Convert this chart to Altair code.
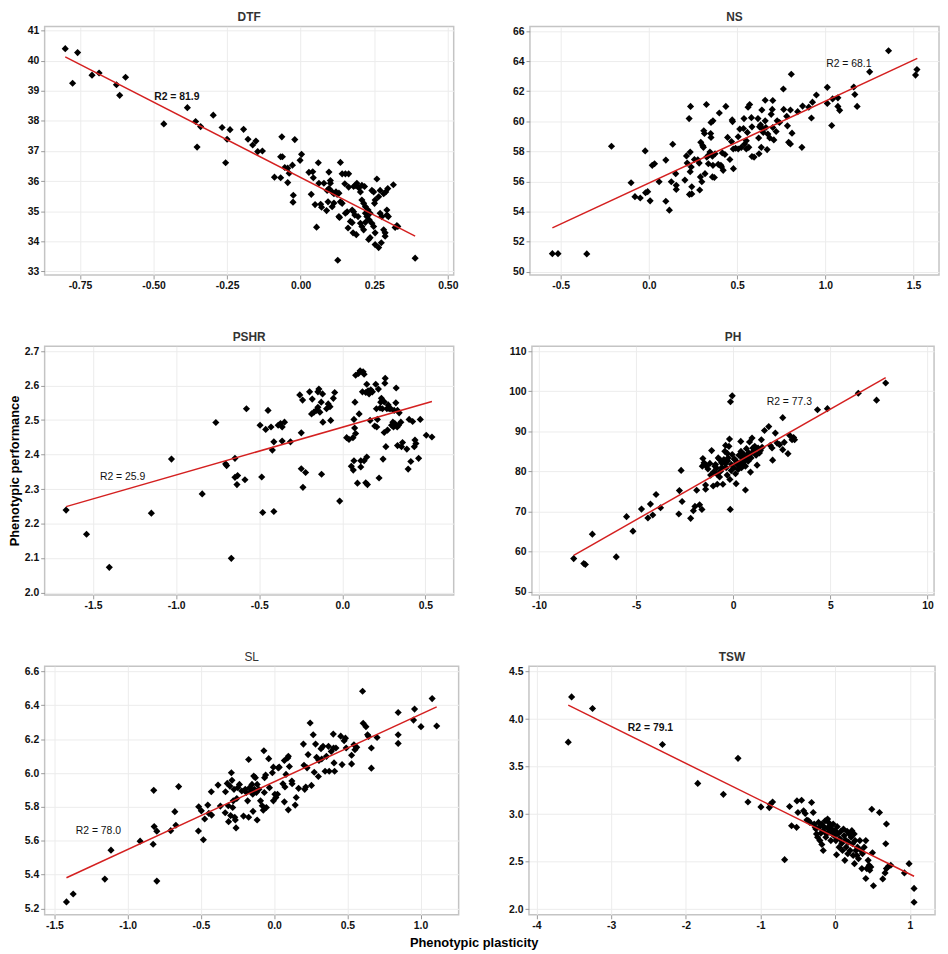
import altair as alt
import pandas as pd

FONT = "Liberation Sans"

DTF = [(-0.800,40.40),(-0.758,40.27),(-0.775,39.25),(-0.709,39.52),(-0.685,39.59),(-0.626,39.20),(-0.615,38.85),(-0.595,39.45),(-0.465,37.90),(-0.385,38.44),(-0.357,37.98),(-0.352,37.13),(-0.340,37.81),(-0.297,38.19),(-0.267,37.78),(-0.240,37.71),(-0.250,37.39),(-0.255,36.61),(-0.194,37.72),(-0.179,37.39),(-0.152,37.33),(-0.163,37.20),(-0.146,36.98),(-0.130,37.00),(-0.064,37.47),(-0.020,37.38),(-0.068,36.81),(-0.062,36.81),(-0.089,36.13),(-0.068,36.11),(-0.054,36.45),(-0.044,36.43),(-0.039,36.26),(-0.044,35.95),(-0.028,36.53),(0.003,36.89),(-0.002,36.69),(-0.025,35.53),(-0.026,35.30),(0.054,34.47),(0.126,33.37),(0.389,33.44),(0.315,35.88),(0.327,34.52),(0.259,36.07),(0.135,36.62),
       (0.028,36.29),(0.041,36.31),(0.036,35.56),(0.043,36.11),(0.060,36.61),(0.062,35.93),(0.049,35.22),(0.068,35.23),(0.071,35.13),(0.079,35.93),(0.093,35.31),(0.088,35.02),(0.096,36.30),(0.101,36.02),(0.101,35.93),(0.096,35.75),(0.090,35.69),(0.107,35.64),(0.113,35.58),(0.107,35.15),(0.120,35.64),(0.124,35.56),(0.130,35.60),(0.113,35.27),(0.135,35.31),(0.130,34.82),(0.132,34.79),(0.141,36.24),(0.152,36.24),(0.150,35.91),(0.141,35.26),(0.152,34.93),(0.158,34.98),(0.163,36.24),(0.163,35.80),(0.169,34.66),(0.161,34.44),(0.175,34.62),(0.180,35.82),(0.186,35.86),(0.191,35.93),(0.180,34.98),(0.184,34.87),(0.178,34.28),(0.189,34.22),(0.197,35.78),(0.203,35.64),(0.208,35.86),(0.208,35.37),(0.208,34.49),(0.214,35.26),(0.217,35.82),(0.220,35.15),(0.220,34.93),(0.225,34.82),(0.229,35.04),(0.233,34.71),(0.236,34.93),(0.231,34.06),(0.236,34.12),(0.242,34.60),(0.242,35.69),(0.248,35.64),(0.251,35.26),(0.253,35.37),(0.248,34.49),(0.253,34.28),(0.253,33.89),(0.265,33.79),(0.265,35.48),(0.270,35.69),(0.270,34.93),(0.276,34.82),(0.274,33.95),(0.282,35.58),(0.282,34.38),(0.287,34.28),(0.287,34.17),(0.289,35.64),(0.293,35.04),(0.293,34.87),(0.296,35.75),(0.298,34.82),(0.195,34.82),(0.203,34.60),(0.214,34.38),(0.175,35.04),(0.220,34.63),(0.321,34.46),(0.330,34.49)]

NS = [(-0.547,51.20),(-0.515,51.20),(-0.352,51.18),(-0.212,58.34),(-0.101,55.91),(-0.079,54.99),(-0.049,54.90),(-0.021,58.03),(-0.019,55.25),(-0.007,55.32),(0.007,54.71),(0.019,57.07),(0.032,57.18),(0.058,55.98),(0.096,57.42),(0.096,54.68),(0.116,54.09),(0.127,55.98),(0.135,58.47),(0.152,56.52),(0.155,55.74),(0.155,55.47),(0.204,56.09),(0.213,57.70),(0.217,57.22),(0.228,60.18),(0.236,60.99),(0.234,57.95),(0.234,56.65),(0.230,55.14),(0.243,55.17),(0.243,55.65),(0.240,56.96),(0.258,57.46),(0.277,57.44),(0.285,57.22),(0.292,56.30),(0.288,55.43),(0.294,58.60),(0.300,55.98),(0.305,58.38),(0.309,58.27),(0.311,59.37),(0.315,59.19),(0.318,56.52),(0.326,61.12),(0.328,57.62),(0.337,57.73),(0.337,57.18),(0.346,57.95),(0.350,59.19),(0.352,58.93),(0.352,59.92),(0.363,60.03),(0.360,56.30),(0.363,57.07),(0.360,57.68),(0.371,56.26),(0.375,57.84),(0.399,60.55),(0.393,57.14),(0.408,57.07),(0.412,56.96),(0.421,56.74),(0.416,57.90),(0.431,57.79),(0.436,60.99),(0.446,58.93),(0.459,57.46),(0.472,60.09),(0.474,59.98),(0.479,56.85),(0.468,58.65),(0.478,58.16),(0.491,58.21),(0.506,58.16),(0.506,58.97),(0.515,59.48),(0.524,58.27),(0.539,60.18),(0.536,59.52),(0.543,58.49),(0.552,58.71),(0.552,58.16),(0.558,59.26),(0.562,60.94),(0.571,61.12),(0.566,58.27),(0.581,60.24),(0.584,59.63),(0.584,57.66),(0.596,57.62),(0.618,60.18),(0.622,58.89),(0.624,57.84),(0.627,59.63),(0.633,59.76),(0.637,58.27),(0.640,60.75),(0.646,59.48),(0.648,59.26),(0.659,61.40),(0.659,60.03),(0.663,59.59),(0.670,58.12),(0.674,59.15),(0.685,58.89),(0.693,60.46),(0.699,60.79),(0.702,61.38),(0.702,59.59),(0.708,58.76),(0.721,59.32),(0.727,60.03),(0.740,59.92),(0.762,62.15),(0.764,60.79),(0.781,60.33),(0.785,59.70),(0.792,58.60),(0.802,58.49),(0.802,60.75),(0.807,63.13),(0.811,59.21),(0.843,60.64),(0.867,58.27),(0.871,61.01),(0.906,60.94),(0.921,60.22),(0.927,61.27),(0.949,61.75),(1.011,62.26),(1.011,61.19),(1.036,59.72),(1.041,61.49),(1.071,61.56),(1.071,60.99),(1.081,60.73),(1.161,62.28),(1.167,61.78),(1.180,60.99),(1.251,63.29),(1.358,64.69),(1.511,63.07),(1.519,63.44)]

PSHR = [(-1.662,2.239),(-1.539,2.169),(-1.402,2.073),(-1.149,2.230),(-1.028,2.387),(-0.843,2.286),(-0.761,2.493),(-0.702,2.373),(-0.696,2.368),(-0.668,2.099),(-0.646,2.389),(-0.646,2.334),(-0.630,2.339),(-0.634,2.313),(-0.586,2.327),(-0.577,2.533),(-0.495,2.485),(-0.485,2.335),(-0.479,2.232),(-0.461,2.473),(-0.447,2.528),(-0.429,2.480),(-0.421,2.413),(-0.412,2.437),(-0.412,2.235),(-0.386,2.485),(-0.372,2.490),(-0.362,2.480),(-0.348,2.494),(-0.362,2.439),(-0.312,2.437),(-0.256,2.573),(-0.247,2.463),(-0.247,2.359),(-0.239,2.558),(-0.237,2.305),(-0.221,2.348),(-0.197,2.582),(-0.181,2.561),(-0.185,2.518),(-0.171,2.523),(-0.157,2.528),(-0.147,2.582),(-0.141,2.590),(-0.147,2.537),(-0.135,2.523),(-0.127,2.552),(-0.119,2.576),(-0.117,2.494),(-0.125,2.343),(-0.095,2.533),(-0.085,2.547),(-0.074,2.539),(-0.070,2.499),(-0.054,2.563),(-0.046,2.580),(-0.016,2.265),(0.026,2.449),(0.040,2.444),(0.054,2.366),(0.064,2.449),(0.066,2.355),(0.070,2.382),(0.070,2.502),(0.074,2.477),(0.080,2.461),(0.076,2.552),(0.080,2.630),(0.091,2.317),(0.097,2.635),(0.101,2.518),(0.107,2.643),(0.111,2.382),(0.111,2.364),(0.121,2.582),(0.125,2.640),(0.131,2.633),(0.131,2.382),(0.141,2.580),(0.141,2.318),(0.147,2.393),(0.151,2.313),(0.147,2.604),(0.155,2.585),(0.161,2.576),(0.167,2.499),(0.171,2.588),(0.181,2.582),(0.195,2.483),(0.201,2.604),(0.205,2.533),(0.207,2.480),(0.211,2.502),(0.217,2.590),(0.221,2.332),(0.227,2.535),(0.231,2.552),(0.235,2.563),(0.241,2.533),(0.245,2.387),(0.252,2.553),(0.256,2.607),(0.252,2.464),(0.258,2.621),(0.262,2.423),(0.268,2.533),(0.272,2.471),(0.276,2.544),(0.282,2.533),(0.292,2.533),(0.296,2.485),(0.304,2.494),(0.308,2.480),(0.312,2.528),(0.316,2.490),(0.322,2.550),(0.324,2.593),(0.332,2.528),(0.330,2.480),(0.332,2.426),(0.338,2.485),(0.342,2.521),(0.352,2.494),(0.356,2.423),(0.362,2.435),(0.388,2.416),(0.396,2.358),(0.402,2.502),(0.412,2.380),(0.423,2.496),(0.433,2.423),(0.437,2.442),(0.443,2.432),(0.459,2.389),(0.469,2.502),(0.505,2.456),(0.539,2.451)]

PH = [(-8.21,58.23),(-7.69,56.99),(-7.61,56.74),(-7.25,64.33),(-6.02,58.64),(-5.49,68.70),(-5.16,65.07),(-4.72,70.59),(-4.39,68.37),(-4.26,71.83),(-4.14,69.11),(-3.97,74.22),(-3.74,70.92),(-2.80,69.36),(-2.77,75.21),(-2.68,80.24),(-2.63,72.49),(-2.19,68.28),(-2.05,70.18),(-1.97,71.25),(-1.88,75.29),(-1.73,71.66),(-1.61,70.51),(-1.59,81.31),(-1.56,83.21),(-1.50,82.14),(-1.42,75.54),(-1.42,76.61),(-1.38,81.31),(-1.16,79.08),(-1.11,85.19),(-1.03,76.36),(-0.94,81.31),(-0.91,81.72),(-0.82,79.25),(-0.82,76.78),(-0.77,83.37),(-0.70,78.59),(-0.65,80.07),(-0.60,82.14),(-0.53,76.78),(-0.48,82.96),(-0.43,85.02),(-0.39,86.50),(-0.36,80.90),(-0.31,79.08),(-0.26,83.37),(-0.22,86.26),(-0.19,88.07),(-0.14,97.39),(-0.05,98.87),(-0.15,70.51),(-0.17,78.01),(-0.09,81.72),(-0.05,84.20),(0.03,80.90),(0.09,82.96),(0.12,79.41),(0.15,76.94),(0.21,81.72),(0.26,80.49),(0.29,84.03),(0.32,82.14),(0.39,87.49),(0.43,80.90),(0.46,83.37),(0.51,82.14),(0.56,84.20),(0.63,75.37),(0.63,81.31),(0.68,85.68),(0.72,83.37),(0.77,82.55),(0.80,84.61),(0.84,87.33),(0.89,79.83),(0.92,83.37),(0.97,88.32),(1.01,85.85),(1.06,85.02),(1.11,86.26),(1.18,84.03),(1.23,81.56),(1.28,85.85),(1.35,84.61),(1.40,85.19),(1.45,87.91),(1.49,86.01),(1.61,90.21),(1.83,91.20),(1.91,86.50),(2.00,85.85),(2.03,82.80),(2.17,89.56),(2.26,87.08),(2.39,86.67),(2.55,93.43),(2.55,85.43),(2.63,87.25),(2.82,84.44),(2.91,88.98),(3.03,87.91),(3.11,88.48),(3.16,87.91),(4.34,95.41),(4.85,95.66),(6.44,99.53),(7.38,97.80),(7.85,102.09),
      (-1.30,80.6),(-1.20,82.0),(-1.00,79.9),(-0.85,80.8),(-0.58,81.0),(-0.40,81.9),(-0.28,82.6),(-0.10,80.2),(0.05,83.1),(0.18,82.3),(0.35,81.4),(0.55,82.9),(0.70,83.9),(0.95,84.6),(1.15,85.4),(-0.70,83.0),(-0.30,84.5),(0.40,85.0)]

SL = [(-1.418,5.239),(-1.372,5.286),(-1.156,5.374),(-1.114,5.545),(-0.915,5.598),(-0.826,5.580),(-0.822,5.898),(-0.819,5.684),(-0.801,5.657),(-0.801,5.362),(-0.706,5.660),(-0.678,5.772),(-0.671,5.692),(-0.652,5.920),(-0.517,5.658),(-0.515,5.801),(-0.497,5.777),(-0.483,5.606),(-0.474,5.729),(-0.453,5.811),(-0.446,5.762),(-0.429,5.890),(-0.427,5.752),(-0.383,5.929),(-0.367,5.805),(-0.334,5.766),(-0.332,5.890),(-0.320,5.939),(-0.313,5.807),(-0.311,5.713),(-0.302,5.923),(-0.297,5.749),(-0.292,6.002),(-0.288,5.957),(-0.283,5.797),(-0.279,5.836),(-0.274,5.904),(-0.269,5.739),(-0.265,5.723),(-0.260,5.676),(-0.255,5.850),(-0.248,5.914),(-0.237,5.933),(-0.221,5.894),(-0.209,5.746),(-0.197,5.904),(-0.190,5.885),(-0.181,5.836),(-0.174,6.080),(-0.174,5.739),(-0.167,5.914),(-0.158,5.894),(-0.151,5.933),(-0.146,5.875),(-0.144,5.774),(-0.139,5.982),(-0.135,5.904),(-0.128,5.973),(-0.121,5.885),(-0.116,5.933),(-0.116,5.723),(-0.104,5.904),(-0.093,5.836),(-0.081,5.807),(-0.074,5.781),(-0.070,6.132),(-0.067,5.885),(-0.065,5.973),(-0.058,5.988),(-0.053,5.797),(-0.037,6.085),(-0.032,5.914),(-0.012,6.002),(-0.005,6.035),(-0.005,5.836),(0.005,5.875),(0.012,5.856),(0.023,5.875),(0.028,6.031),(0.035,6.035),(0.060,5.937),(0.070,5.830),(0.070,6.074),(0.074,5.918),(0.081,5.992),(0.093,6.089),(0.097,6.099),(0.097,5.783),(0.104,6.039),(0.121,5.953),(0.123,5.937),(0.144,5.811),(0.151,5.856),(0.167,5.910),(0.200,6.171),(0.204,6.046),(0.209,5.904),(0.216,5.918),(0.225,6.031),(0.232,6.109),(0.246,6.296),(0.255,5.927),(0.267,6.226),(0.274,6.005),(0.283,6.171),(0.290,6.093),(0.302,5.980),(0.306,6.074),(0.320,6.144),(0.325,6.083),(0.334,6.158),(0.348,6.011),(0.357,6.099),(0.371,6.158),(0.376,6.011),(0.390,6.128),(0.404,6.230),(0.406,6.148),(0.409,6.060),(0.413,6.011),(0.422,6.148),(0.455,6.218),(0.464,6.050),(0.478,6.191),(0.487,6.206),(0.492,6.148),(0.529,6.105),(0.529,6.054),(0.545,6.167),(0.552,6.138),(0.564,6.152),(0.604,6.483),(0.608,6.294),(0.627,6.274),(0.638,6.226),(0.645,6.216),(0.664,6.148),(0.664,6.029),(0.703,6.210),(0.847,6.358),(0.847,6.226),(0.847,6.175),(0.952,6.313),(0.959,6.378),(1.003,6.274),(1.079,6.440),(1.110,6.278)]

TSW = [(-3.574,3.757),(-3.529,4.233),(-3.249,4.111),(-2.313,3.733),(-1.840,3.323),(-1.497,3.208),(-1.301,3.587),(-1.168,3.128),(-0.994,3.076),(-0.882,3.069),(-0.869,3.104),(-0.838,3.128),(-0.677,2.521),(-0.611,3.080),(-0.584,2.878),(-0.517,2.861),(-0.512,3.139),(-0.499,3.017),(-0.450,3.146),(-0.423,3.035),(-0.401,3.007),(-0.379,2.938),(-0.357,2.931),(-0.339,2.913),(-0.316,3.122),(-0.294,3.017),(-0.281,2.896),(-0.267,2.861),(-0.258,2.844),(-0.250,2.792),(-0.236,2.757),(-0.223,2.913),(-0.214,2.861),(-0.205,2.722),(-0.192,2.799),(-0.178,2.896),(-0.178,2.681),(-0.160,2.618),(-0.160,2.826),(-0.143,2.861),(-0.134,2.931),(-0.125,2.757),(-0.116,2.792),(-0.102,2.948),(-0.102,2.854),(-0.089,2.913),(-0.080,2.809),(-0.071,2.878),(-0.058,2.722),(-0.045,2.844),(-0.036,2.792),(-0.027,2.896),(-0.013,2.774),(-0.004,2.826),(0.009,2.722),(0.018,2.573),(0.027,2.868),(0.036,2.792),(0.053,2.653),(0.062,2.740),(0.076,2.819),(0.089,2.694),(0.098,2.618),(0.111,2.844),(0.120,2.774),(0.129,2.514),(0.138,2.729),(0.147,2.653),(0.160,2.819),(0.169,2.583),(0.178,2.705),(0.187,2.792),(0.201,2.618),(0.214,2.757),(0.223,2.826),(0.232,2.688),(0.241,2.566),(0.254,2.792),(0.258,2.479),(0.267,2.722),(0.276,2.618),(0.290,2.566),(0.299,2.653),(0.312,2.531),(0.330,2.722),(0.343,2.618),(0.357,2.427),(0.365,2.583),(0.388,2.653),(0.410,2.323),(0.410,2.722),(0.423,2.427),(0.441,2.514),(0.455,2.462),(0.463,2.410),(0.477,2.444),(0.490,3.052),(0.499,2.594),(0.512,2.247),(0.593,3.017),(0.637,2.319),(0.668,2.382),(0.677,2.688),(0.686,2.896),(0.686,2.427),(0.713,2.451),(0.744,2.462),(0.927,2.382),(0.989,2.479),(1.056,2.219),(1.056,2.073)]

# fitted line end points and R2 labels
FIT_X = {"DTF": [-0.800, 0.389], "NS": [-0.547, 1.521], "PSHR": [-1.662, 0.539],
         "PH": [-8.21, 7.85], "SL": [-1.418, 1.110], "TSW": [-3.574, 1.056]}
FIT_Y = {"DTF": [40.13, 34.17], "NS": [52.91, 64.18], "PSHR": [2.249, 2.554],
         "PH": [59.05, 103.40], "SL": [5.382, 6.391], "TSW": [4.146, 2.347]}
R2_TEXT = {"DTF": "R2 = 81.9", "NS": "R2 = 68.1", "PSHR": "R2 = 25.9",
           "PH": "R2 = 77.3", "SL": "R2 = 78.0", "TSW": "R2 = 79.1"}
R2_POS = {"DTF": (-0.421, 38.78), "NS": (1.133, 63.81), "PSHR": (-1.322, 2.335),
          "PH": (2.89, 97.39), "SL": (-1.200, 5.657), "TSW": (-2.473, 3.903)}

X_TICKS = {"DTF": [-0.75, -0.5, -0.25, 0, 0.25, 0.5], "NS": [-0.5, 0, 0.5, 1, 1.5],
           "PSHR": [-1.5, -1, -0.5, 0, 0.5], "PH": [-10, -5, 0, 5, 10],
           "SL": [-1.5, -1, -0.5, 0, 0.5, 1], "TSW": [-4, -3, -2, -1, 0, 1]}
Y_TICKS = {"DTF": [33, 34, 35, 36, 37, 38, 39, 40, 41], "NS": [50, 52, 54, 56, 58, 60, 62, 64, 66],
           "PSHR": [2.0, 2.1, 2.2, 2.3, 2.4, 2.5, 2.6, 2.7], "PH": [50, 60, 70, 80, 90, 100, 110],
           "SL": [5.2, 5.4, 5.6, 5.8, 6.0, 6.2, 6.4, 6.6], "TSW": [2.0, 2.5, 3.0, 3.5, 4.0, 4.5]}
X_DOM = {"DTF": [-0.87, 0.52], "NS": [-0.674, 1.644], "PSHR": [-1.791, 0.670],
         "PH": [-10.36, 10.34], "SL": [-1.567, 1.260], "TSW": [-4.10, 1.337]}
Y_DOM = {"DTF": [32.88, 41.14], "NS": [49.78, 66.31], "PSHR": [1.993, 2.714],
         "PH": [49.16, 111.24], "SL": [5.163, 6.631], "TSW": [1.941, 4.556]}
X_FMT = {"DTF": ".2f", "NS": ".1f", "PSHR": ".1f", "PH": "d", "SL": ".1f", "TSW": "d"}
Y_FMT = {"DTF": "d", "NS": "d", "PSHR": ".1f", "PH": "d", "SL": ".1f", "TSW": ".1f"}

POINTS = {"DTF": DTF, "NS": NS, "PSHR": PSHR, "PH": PH, "SL": SL, "TSW": TSW}
BOLD = {"DTF": True, "NS": True, "PSHR": True, "PH": True, "SL": False, "TSW": True}
R2_BOLD = {"DTF": True, "NS": False, "PSHR": False, "PH": False, "SL": False, "TSW": True}
WIDTH = {"DTF": 413, "NS": 413, "PSHR": 413, "PH": 406, "SL": 418, "TSW": 410}
H = 251


def label_expr(fmt):
    return f"(datum.value < 0 ? '-' : '') + format(abs(datum.value), '{fmt}')"


def panel(name):
    pts = pd.DataFrame(POINTS[name], columns=["x", "y"])
    fit = pd.DataFrame({"x": FIT_X[name], "y": FIT_Y[name]})
    lab = pd.DataFrame({"x": [R2_POS[name][0]], "y": [R2_POS[name][1]], "t": [R2_TEXT[name]]})
    xs = alt.Scale(domain=X_DOM[name], nice=False, zero=False)
    ys = alt.Scale(domain=Y_DOM[name], nice=False, zero=False)
    xa = alt.Axis(values=X_TICKS[name], labelExpr=label_expr(X_FMT[name]), title=None, tickCount=40)
    ya = alt.Axis(values=Y_TICKS[name], labelExpr=label_expr(Y_FMT[name]), title=None, tickCount=40)
    base_x = alt.X("x:Q", scale=xs, axis=xa)
    base_y = alt.Y("y:Q", scale=ys, axis=ya)
    p = alt.Chart(pts).mark_point(shape="diamond", filled=True, color="black",
                                  size=52, opacity=1).encode(x=base_x, y=base_y)
    l = alt.Chart(fit).mark_line(color="#d42020", strokeWidth=1.5).encode(x="x:Q", y="y:Q")
    t = alt.Chart(lab).mark_text(font=FONT, fontSize=10.5, color="#111111",
                                 fontWeight="bold" if R2_BOLD[name] else "normal").encode(
        x="x:Q", y="y:Q", text="t:N")
    return alt.layer(p, l, t).properties(
        width=WIDTH[name], height=H,
        title=alt.TitleParams(name, font=FONT, fontSize=12, color="#333333",
                              fontWeight="bold" if BOLD[name] else "normal",
                              anchor="middle", offset=2))


row1 = alt.hconcat(panel("DTF"), panel("NS"), spacing=52)
row2 = alt.hconcat(panel("PSHR"), panel("PH"), spacing=53)
row3 = alt.hconcat(panel("SL"), panel("TSW"), spacing=48)

inner = alt.vconcat(row1, row2, row3, spacing=38).properties(
    title=alt.TitleParams("Phenotypic performance", orient="left", anchor="middle",
                          font=FONT, fontSize=13, fontWeight="bold", color="#000000", offset=2))

chart = alt.vconcat(inner).properties(
    title=alt.TitleParams("Phenotypic plasticity", orient="bottom", anchor="middle",
                          font=FONT, fontSize=13, fontWeight="bold", color="#000000", offset=5),
    padding={"top": -3, "left": 0, "right": 0, "bottom": 0},
).configure_view(stroke="#c4c4c4", strokeWidth=1.5).configure_axis(
    labelFont=FONT, labelFontSize=10.5, labelFontWeight="bold", labelColor="#111111",
    tickColor="#9a9a9a", tickSize=4, tickWidth=1, domain=False, labelOverlap=False,
    labelFlush=False, gridColor="#ececec", gridWidth=1, labelPadding=2,
).configure_concat(spacing=0)

chart.save("out.html", embed_options={"renderer": "svg", "actions": False})
